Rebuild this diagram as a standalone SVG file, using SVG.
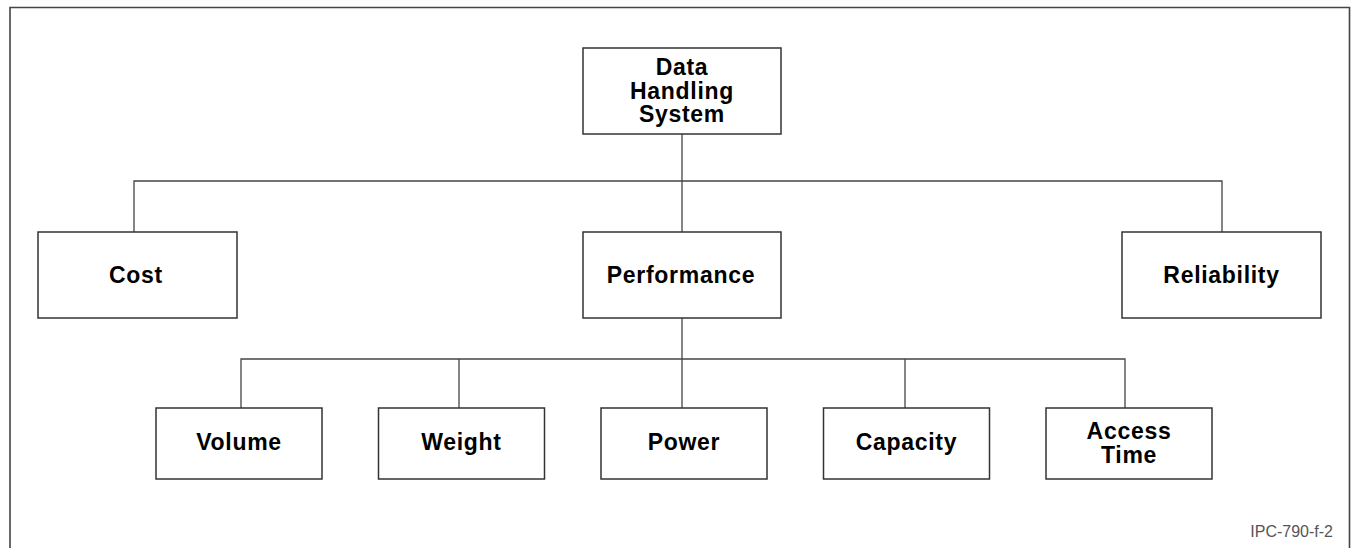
<svg xmlns="http://www.w3.org/2000/svg" width="1355" height="548" viewBox="0 0 1355 548">
<style>
.box{fill:#fff;stroke:#333;stroke-width:1.5}
.lbl{font-family:"Liberation Sans",Arial,sans-serif;font-weight:bold;font-size:23px;letter-spacing:0.7px;fill:#000;text-anchor:middle}
.con{stroke:#444;stroke-width:1.3;fill:none}
</style>
<rect width="1355" height="548" fill="#fff"/>
<path d="M10,550 V7.5 H1349.5 V550" fill="none" stroke="#444" stroke-width="1.6"/>
<g id="connectors">
<path class="con" d="M682,134 V232"/>
<path class="con" d="M134,232 V181 H1222 V232"/>
<path class="con" d="M682,318 V408"/>
<path class="con" d="M241,408 V359 H1125 V408"/>
<path class="con" d="M459,359 V408"/>
<path class="con" d="M905,359 V408"/>
</g>
<g id="n-dhs"><rect class="box" x="583" y="48" width="198" height="86"/>
<text class="lbl" x="682" y="75">Data</text><text class="lbl" x="682" y="98.5">Handling</text><text class="lbl" x="682" y="122">System</text></g>
<g id="n-cost"><rect class="box" x="38" y="232" width="199" height="86"/><text class="lbl" x="136" y="283">Cost</text></g>
<g id="n-perf"><rect class="box" x="583" y="232" width="198" height="86"/><text class="lbl" x="681" y="283">Performance</text></g>
<g id="n-rel"><rect class="box" x="1122" y="232" width="199" height="86"/><text class="lbl" x="1221.5" y="283">Reliability</text></g>
<g id="n-vol"><rect class="box" x="156" y="408" width="166" height="71"/><text class="lbl" x="239" y="450">Volume</text></g>
<g id="n-wt"><rect class="box" x="378.5" y="408" width="166" height="71"/><text class="lbl" x="461.5" y="450">Weight</text></g>
<g id="n-pow"><rect class="box" x="601" y="408" width="166" height="71"/><text class="lbl" x="684" y="450">Power</text></g>
<g id="n-cap"><rect class="box" x="823.5" y="408" width="166" height="71"/><text class="lbl" x="906.5" y="450">Capacity</text></g>
<g id="n-acc"><rect class="box" x="1046" y="408" width="166" height="71"/><text class="lbl" x="1129" y="439">Access</text><text class="lbl" x="1129" y="463">Time</text></g>
<text x="1333" y="536.5" font-family="'Liberation Sans',Arial,sans-serif" font-size="16" fill="#555" text-anchor="end">IPC-790-f-2</text>
</svg>
